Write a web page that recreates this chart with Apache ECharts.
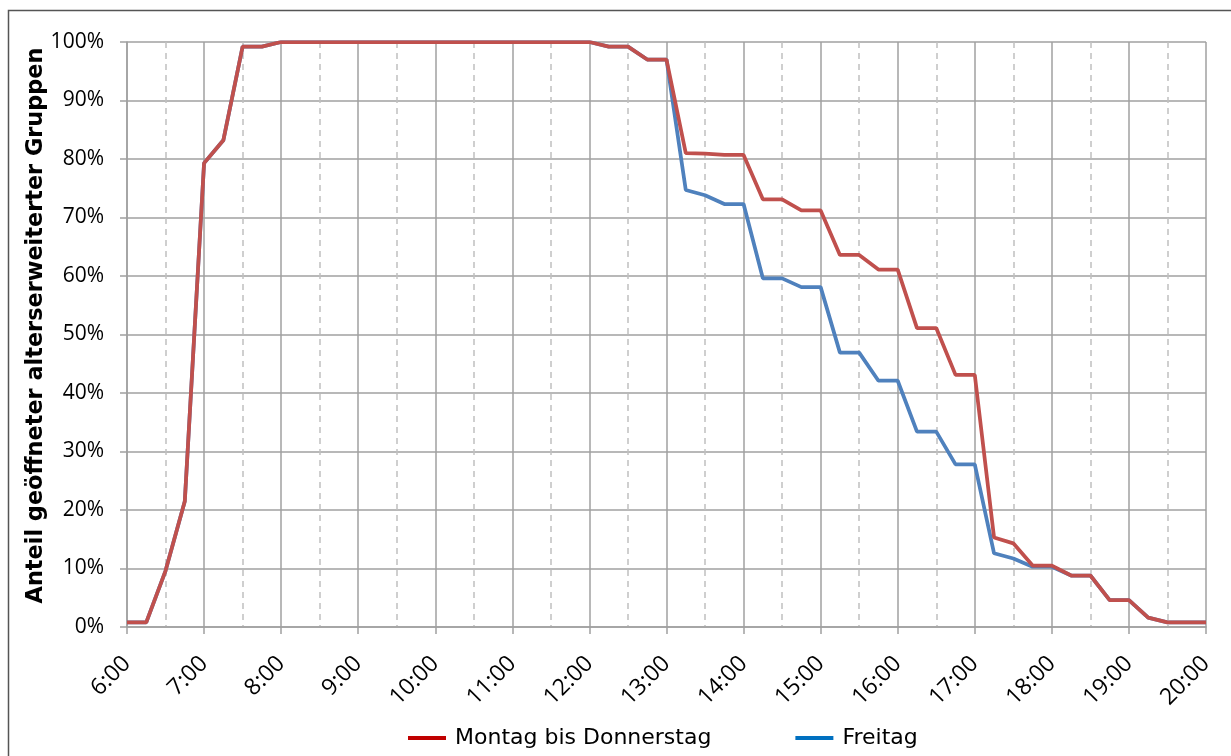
<!DOCTYPE html>
<html>
<head>
<meta charset="utf-8">
<script src="https://cdn.jsdelivr.net/npm/echarts@6/dist/echarts.min.js"></script>
<style>html,body{margin:0;padding:0;background:#fff}#c{width:1231px;height:756px}</style>
</head>
<body>
<div id="c"></div>
<script>
const times = ["6:00","6:15","6:30","6:45","7:00","7:15","7:30","7:45","8:00","8:15","8:30","8:45","9:00","9:15","9:30","9:45","10:00","10:15","10:30","10:45","11:00","11:15","11:30","11:45","12:00","12:15","12:30","12:45","13:00","13:15","13:30","13:45","14:00","14:15","14:30","14:45","15:00","15:15","15:30","15:45","16:00","16:15","16:30","16:45","17:00","17:15","17:30","17:45","18:00","18:15","18:30","18:45","19:00","19:15","19:30","19:45","20:00"];
const monDo = [0.8,0.8,9.6,21.5,79.3,83.2,99.2,99.2,100,
  100,100,100,100,100,100,100,100,100,100,100,100,100,100,100,100,
  99.2,99.2,97,97,81,80.9,80.7,80.7,73.1,73.1,71.2,71.2,63.6,63.6,61.1,61.1,51.1,51.1,43.1,43.1,15.3,14.3,10.5,10.5,8.8,8.8,4.6,4.6,1.6,0.8,0.8,0.8];
const freitag = [0.8,0.8,9.6,21.5,79.3,83.2,99.2,99.2,100,
  100,100,100,100,100,100,100,100,100,100,100,100,100,100,100,100,
  99.2,99.2,97,97,74.7,73.8,72.3,72.3,59.6,59.6,58.1,58.1,46.9,46.9,42.1,42.1,33.4,33.4,27.8,27.8,12.6,11.7,10.3,10.3,8.8,8.8,4.6,4.6,1.6,0.8,0.8,0.8];
const yTicks = [0,10,20,30,40,50,60,70,80,90,100];
const names = ["Montag bis Donnerstag","Freitag"];

const chart = echarts.init(document.getElementById('c'), null, {renderer:'canvas'});
const grid = {left:127, right:25, top:42, bottom:129};
chart.setOption({
  animation:false,
  backgroundColor:'#fff',
  textStyle:{fontFamily:'Open Sans'},
  graphic:[{type:'rect', shape:{x:8.5,y:10.5,width:1250,height:780}, style:{fill:null, stroke:'#555', lineWidth:1.5}, silent:true, z:-10}],
  grid:[grid, grid],
  legend:{
    bottom:2, left:403, itemWidth:38, itemHeight:4, itemGap:84,
    icon:'rect',
    textStyle:{fontFamily:'DejaVu Sans', fontSize:22, color:'#000', padding:[0,0,0,4]},
    data:[{name:names[0], itemStyle:{color:'#C00000'}},{name:names[1], itemStyle:{color:'#0070C0'}}]
  },
  xAxis:[{
    type:'category', data:times, boundaryGap:false, gridIndex:0,
    axisLine:{lineStyle:{color:'#a0a0a0', width:1.5}},
    axisTick:{show:true, interval:(i)=>i%4===0, length:7, lineStyle:{color:'#a0a0a0', width:1.5}},
    axisLabel:{interval:(i)=>i%4===0, rotate:45, fontSize:23, color:'#000', margin:33, fontFamily:'Open Sans'},
    splitLine:{show:true, interval:(i)=>i%4===0, lineStyle:{color:'#a0a0a0', width:1.5}}
  },{
    type:'category', data:times, boundaryGap:false, gridIndex:1, show:true,
    axisLine:{show:false}, axisTick:{show:false}, axisLabel:{show:false},
    splitLine:{show:true, interval:(i)=>i%4===2, lineStyle:{color:'#c0c0c0', width:1.5, type:[6,5]}}
  }],
  yAxis:[{
    type:'value', min:0, max:100, interval:10, gridIndex:0,
    name:'Anteil geöffneter alterserweiterter Gruppen', nameLocation:'middle', nameGap:80, nameMoveOverlap:false,
    nameTextStyle:{fontFamily:'DejaVu Sans', fontWeight:'bold', fontSize:22.4, color:'#000', padding:[0,0,0,18]},
    axisLine:{show:true, lineStyle:{color:'#a0a0a0', width:1.5}},
    axisTick:{show:true, length:7, lineStyle:{color:'#a0a0a0', width:1.5}},
    axisLabel:{formatter:(v)=>yTicks.includes(v)?v+'%':'', fontSize:21, color:'#000', margin:23, fontFamily:'Open Sans'},
    splitLine:{show:true, lineStyle:{color:'#a0a0a0', width:1.5}}
  },{
    type:'value', min:0, max:100, interval:10, gridIndex:1, show:false, splitLine:{show:false}
  }],
  series:[
    {name:names[1], type:'line', data:freitag, xAxisIndex:0, yAxisIndex:0, symbol:'none', z:3,
     lineStyle:{color:'#4F81BD', width:3.75}, itemStyle:{color:'#4F81BD'}},
    {name:names[0], type:'line', data:monDo, xAxisIndex:0, yAxisIndex:0, symbol:'none', z:4,
     lineStyle:{color:'#C0504D', width:3.75}, itemStyle:{color:'#C0504D'}}
  ]
});
</script>
</body>
</html>
